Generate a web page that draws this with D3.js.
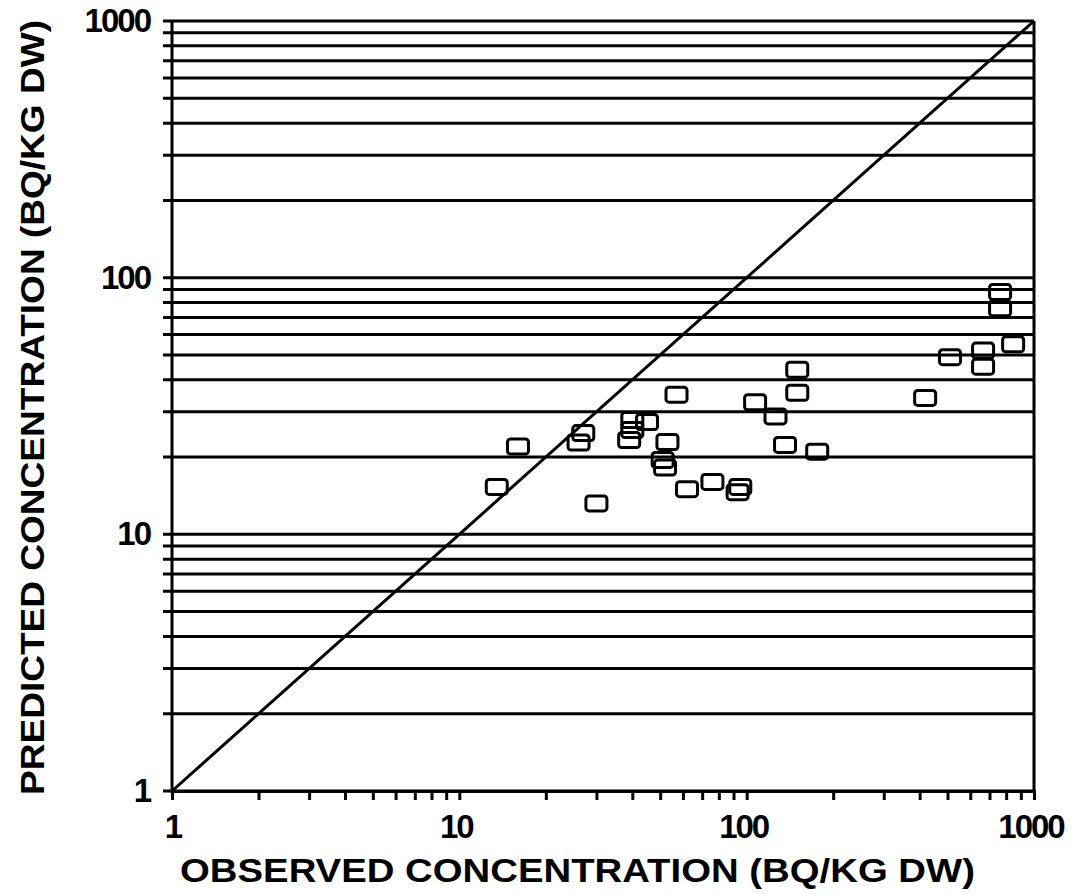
<html>
<body style="margin:0;background:#fff;">
<svg width="1078" height="894"></svg>
<script src="https://cdn.jsdelivr.net/npm/d3@7"></script>
<script>
    // observed vs predicted concentration, Bq/kg dw
    const observed = [13.5, 16, 26, 27, 30, 39, 40, 40, 45, 51, 52, 53, 57, 62, 76, 93, 95, 107, 126, 136, 150, 150, 176, 418, 510, 665, 665, 762, 762, 846];
    const predicted = [15.3, 22, 22.8, 24.8, 13.2, 23.3, 27.9, 25.5, 27.4, 19.5, 18.2, 22.9, 35, 15, 16, 14.6, 15.3, 32.7, 28.8, 22.3, 43.8, 35.6, 21, 34, 49, 52, 45, 88, 76, 55];
    const majorTicks = [1, 10, 100, 1000];

    const mLeft = 172, mRight = 1034, mTop = 21, mBottom = 791;
    const font = "'Liberation Sans', Arial, sans-serif";

    const svg = d3.select("svg");
    const x = d3.scaleLog().domain([1, 1000]).range([mLeft, mRight]);
    const y = d3.scaleLog().domain([1, 1000]).range([mBottom, mTop]);

    // all minor values 1..9, 10..90, ...
    const minor = [];
    [1, 10, 100].forEach(d => { for (let k = 1; k < 10; k++) minor.push(d * k); });
    minor.push(1000);

    // horizontal grid lines
    svg.append("g")
        .selectAll("line")
        .data(minor)
        .join("line")
        .attr("x1", mLeft - 9)
        .attr("x2", mRight)
        .attr("y1", d => y(d))
        .attr("y2", d => y(d))
        .attr("stroke", "#000")
        .attr("stroke-width", 3);

    // x axis with downward ticks
    svg.append("g")
        .attr("transform", `translate(0,${mBottom})`)
        .call(d3.axisBottom(x).tickValues(minor).tickSize(9).tickFormat(""))
        .call(g => g.select(".domain").attr("stroke-width", 3))
        .call(g => g.selectAll(".tick line").attr("stroke-width", 3));

    // y axis line and right border
    svg.append("line")
        .attr("x1", mLeft).attr("x2", mLeft).attr("y1", mTop).attr("y2", mBottom + 2)
        .attr("stroke", "#000").attr("stroke-width", 3);
    svg.append("line")
        .attr("x1", mRight).attr("x2", mRight).attr("y1", mTop).attr("y2", mBottom + 2)
        .attr("stroke", "#000").attr("stroke-width", 3);

    // tick labels
    svg.append("g")
        .selectAll("text")
        .data(majorTicks)
        .join("text")
        .attr("x", mLeft - 22)
        .attr("y", d => y(d) + 11)
        .attr("text-anchor", "end")
        .attr("font-family", font)
        .attr("font-weight", "bold")
        .attr("font-size", 33)
        .attr("letter-spacing", -2)
        .text(d => d);

    svg.append("g")
        .selectAll("text")
        .data(majorTicks)
        .join("text")
        .attr("x", d => x(d) + (d === 1 ? 1 : -3))
        .attr("y", 838)
        .attr("text-anchor", "middle")
        .attr("font-family", font)
        .attr("font-weight", "bold")
        .attr("font-size", 33)
        .attr("letter-spacing", -2)
        .text(d => d);

    // axis titles
    svg.append("text")
        .attr("x", 180)
        .attr("y", 882)
        .attr("font-family", font)
        .attr("font-weight", "bold")
        .attr("font-size", 34)
        .attr("textLength", 795)
        .attr("lengthAdjust", "spacingAndGlyphs")
        .text("OBSERVED CONCENTRATION (BQ/KG DW)");

    svg.append("text")
        .attr("transform", "translate(44,795) rotate(-90)")
        .attr("font-family", font)
        .attr("font-weight", "bold")
        .attr("font-size", 34)
        .attr("textLength", 775)
        .attr("lengthAdjust", "spacingAndGlyphs")
        .text("PREDICTED CONCENTRATION (BQ/KG DW)");

    // 1:1 line
    svg.append("path")
        .datum([1, 1000])
        .attr("d", d3.line().x(d => x(d)).y(d => y(d)))
        .attr("stroke", "#000")
        .attr("stroke-width", 3)
        .attr("fill", "none");

    // data squares
    const pts = observed.map((o, i) => ({ o, p: predicted[i] }));
    svg.append("g")
        .selectAll("rect")
        .data(pts)
        .join("rect")
        .attr("x", d => x(d.o) - 10.5)
        .attr("y", d => y(d.p) - 7.5)
        .attr("width", 21)
        .attr("height", 15)
        .attr("rx", 3)
        .attr("fill", "none")
        .attr("stroke", "#000")
        .attr("stroke-width", 3);
</script>
</body>
</html>
